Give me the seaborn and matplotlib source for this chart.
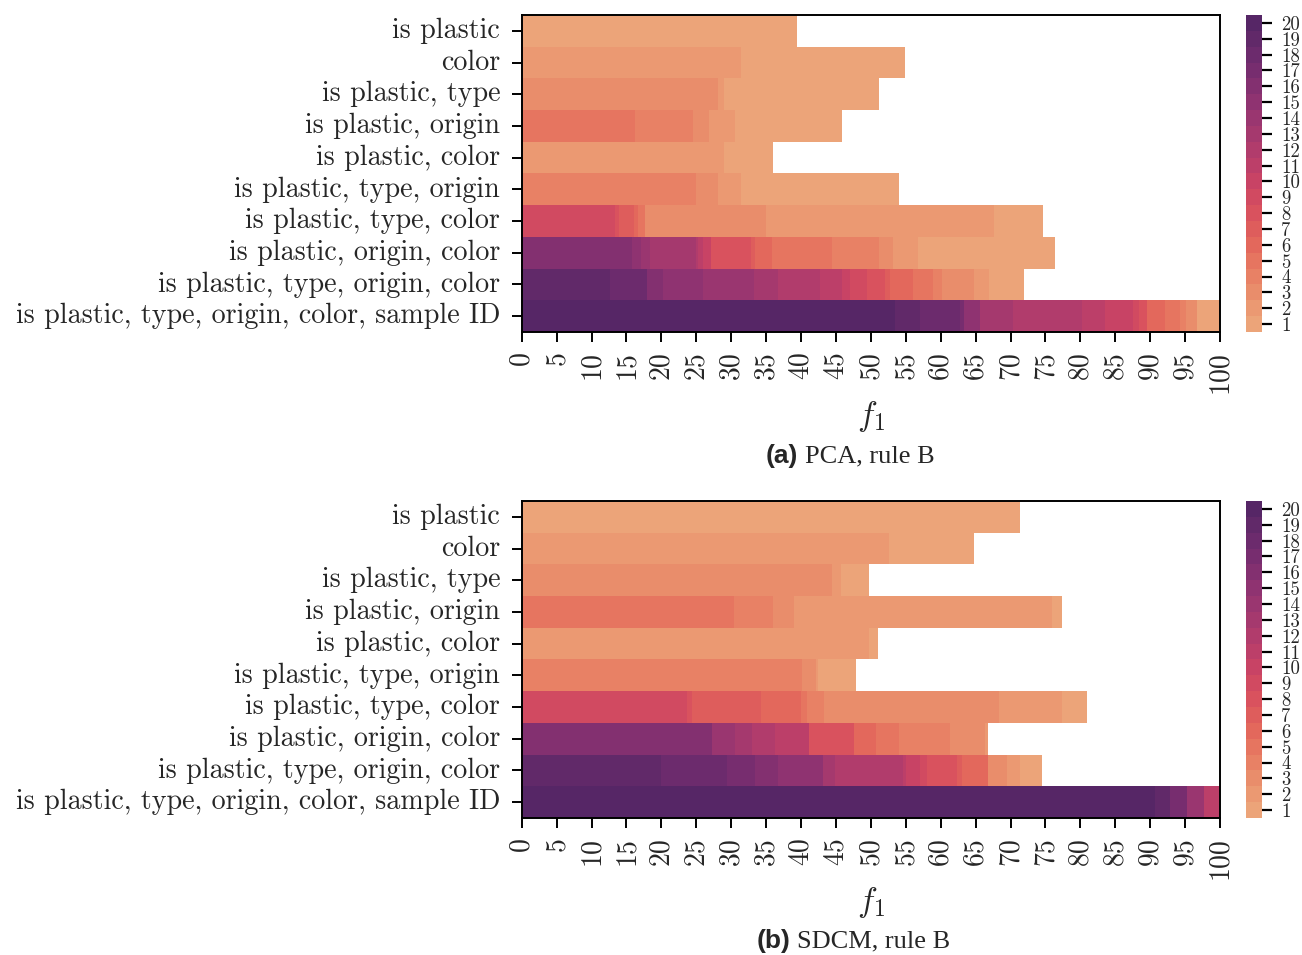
import numpy as np
import pandas as pd
import matplotlib
matplotlib.use("Agg")
import matplotlib.pyplot as plt
import seaborn as sns
from matplotlib.colors import ListedColormap

# ---------------- data ----------------
row_labels = [
    "is plastic",
    "color",
    "is plastic, type",
    "is plastic, origin",
    "is plastic, color",
    "is plastic, type, origin",
    "is plastic, type, color",
    "is plastic, origin, color",
    "is plastic, type, origin, color",
    "is plastic, type, origin, color, sample ID",
]
x_ticks = list(range(0, 101, 5))
cbar_levels = list(range(1, 21))

# segment right-edges (in f1 units) and the level of each segment, per row
pca_ends = [
    [39.4],
    [31.4, 54.9],
    [28.1, 28.9, 51.1],
    [16.2, 24.5, 26.8, 30.6, 45.9],
    [28.9, 36.0],
    [24.9, 28.1, 31.4, 54.1],
    [13.4, 13.9, 16.1, 16.6, 17.7, 35.0, 67.7, 74.6],
    [15.8, 17.1, 18.4, 24.9, 25.3, 25.9, 27.1, 32.8, 33.4, 35.8, 44.4, 51.1, 53.2, 56.7, 76.3],
    [12.6, 18.0, 20.2, 25.9, 33.2, 36.7, 42.7, 45.9, 47.0, 49.4, 52.0, 52.8, 56.0, 58.9, 60.2, 64.7, 66.9, 72.0],
    [53.4, 57.1, 62.7, 63.4, 65.6, 70.4, 80.2, 83.5, 87.6, 88.4, 89.6, 92.1, 94.3, 95.1, 96.7, 100.0],
]
pca_levels = [
    [1],
    [2, 1],
    [3, 2, 1],
    [5, 4, 3, 2, 1],
    [2, 1],
    [4, 3, 2, 1],
    [9, 8, 7, 6, 5, 3, 2, 1],
    [16, 15, 14, 13, 12, 11, 10, 8, 7, 6, 5, 4, 3, 2, 1],
    [19, 18, 16, 15, 14, 13, 12, 11, 10, 9, 8, 7, 6, 5, 4, 3, 2, 1],
    [20, 19, 18, 17, 15, 13, 12, 11, 10, 9, 8, 6, 5, 4, 3, 1],
]

sdcm_ends = [
    [71.4],
    [52.6, 64.7],
    [44.4, 45.7, 49.7],
    [30.4, 36.0, 39.0, 75.9, 77.4],
    [49.7, 51.0],
    [40.1, 42.1, 42.5, 47.9],
    [23.7, 24.4, 34.2, 40.0, 40.9, 43.3, 68.4, 77.4, 81.0],
    [27.3, 30.6, 33.0, 36.3, 41.1, 47.6, 50.8, 54.1, 61.3, 66.3, 66.8],
    [19.9, 29.4, 33.4, 36.7, 43.1, 44.9, 54.6, 55.1, 57.1, 58.0, 62.4, 63.1, 66.8, 69.5, 71.3, 74.5],
    [90.7, 92.8, 95.3, 97.7, 100.0],
]
sdcm_levels = [
    [1],
    [2, 1],
    [3, 2, 1],
    [5, 4, 3, 2, 1],
    [2, 1],
    [4, 3, 2, 1],
    [9, 8, 7, 6, 5, 4, 3, 2, 1],
    [16, 14, 13, 12, 11, 8, 6, 5, 4, 3, 2],
    [19, 18, 17, 16, 15, 13, 12, 11, 10, 9, 8, 7, 6, 3, 2, 1],
    [20, 19, 17, 14, 11],
]

# ---------------- build ----------------
RES = 10  # columns per f1 unit


def build(ends_rows, level_rows):
    mat = np.full((len(ends_rows), 100 * RES), np.nan)
    for i, (ends, lv) in enumerate(zip(ends_rows, level_rows)):
        start = 0
        for e, l in zip(ends, lv):
            stop = int(round(e * RES))
            mat[i, start:stop] = l
            start = stop
    return pd.DataFrame(mat, index=row_labels)


sns.set_style("ticks")
plt.rcParams["font.family"] = ["cmr10", "DejaVu Serif"]
plt.rcParams["mathtext.fontset"] = "cm"
plt.rcParams["axes.unicode_minus"] = False
plt.rcParams["axes.formatter.use_mathtext"] = True

cmap = ListedColormap(sns.color_palette("flare", 20))

W, H = 1302, 955
fig = plt.figure(figsize=(W / 100, H / 100), dpi=100)

panels = [
    (build(pca_ends, pca_levels), 15, 332, "(a)", "PCA, rule B", 798, 805, 456),
    (build(sdcm_ends, sdcm_levels), 501, 818, "(b)", "SDCM, rule B", 790, 797, 941),
]

for df, ytop, ybot, tag, cap, xtag, xcap, ycap in panels:
    ax = fig.add_axes([521.7 / W, 1 - ybot / H, (1220 - 521.7) / W, (ybot - ytop) / H])
    cax = fig.add_axes([1246 / W, 1 - ybot / H, 16 / W, (ybot - ytop) / H])
    sns.heatmap(
        df, ax=ax, cmap=cmap, vmin=0.5, vmax=20.5, mask=df.isna(),
        cbar_ax=cax, cbar_kws={"ticks": cbar_levels},
        xticklabels=False, yticklabels=True,
    )
    ax.set_xticks([t * RES for t in x_ticks])
    ax.set_xticklabels([str(t) for t in x_ticks], rotation=90, fontsize=20)
    ax.set_yticklabels(row_labels, rotation=0, fontsize=20.2)
    ax.tick_params(axis="both", length=7, width=1.4, color="black", bottom=True, left=True)
    ax.tick_params(axis="y", pad=8.5)
    ax.tick_params(axis="x", pad=7)
    for sp in ax.spines.values():
        sp.set_visible(True)
        sp.set_linewidth(1.4)
        sp.set_color("black")
    ax.set_xlabel(r"$f_1$", fontsize=24, labelpad=4)
    ax.set_ylabel("")
    cax.tick_params(labelsize=13.5, length=7, width=1.6, color="black", pad=7)
    cax.set_yticklabels([str(v) for v in cbar_levels])
    fig.text(xtag / W, 1 - ycap / H, tag, ha="right", va="center",
             family="Liberation Sans", weight="bold", fontsize=19)
    fig.text(xcap / W, 1 - ycap / H, cap, ha="left", va="center",
             family="Liberation Serif", fontsize=19)

fig.savefig("out.png", dpi=100)
